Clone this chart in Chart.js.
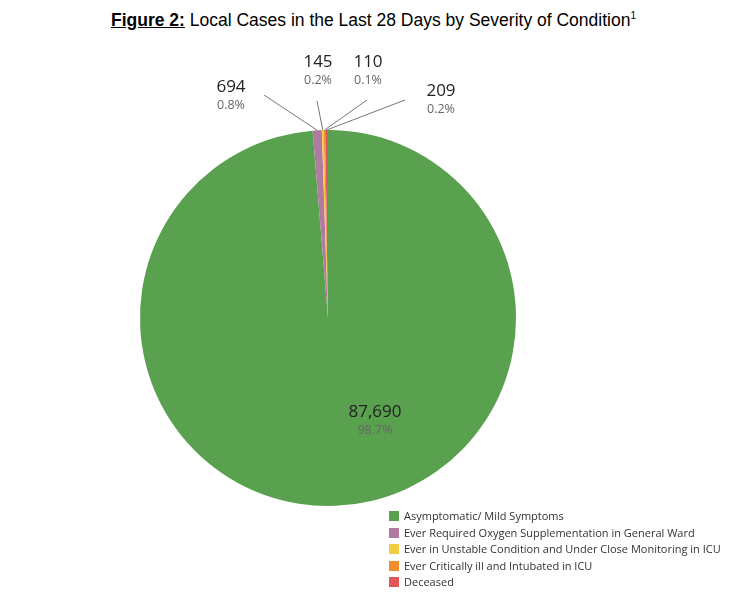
<!DOCTYPE html>
<html><head><meta charset="utf-8">
<script src="https://cdn.jsdelivr.net/npm/chart.js@4"></script>
<style>
body{margin:0;background:#fff;width:747px;height:598px;overflow:hidden;position:relative;font-family:"Liberation Sans",Arial,sans-serif}
#title{position:absolute;top:10px;left:0;width:747px;text-align:center;font-size:17.5px;color:#000}
#title b{text-decoration:underline}
#legend{position:absolute;left:389px;top:508px;font-family:"Open Sans",sans-serif;font-size:11px;color:#333}
#legend div{height:16.5px;line-height:16px;display:flex;align-items:center}
#legend span{display:inline-block;width:10px;height:10px;margin-right:5px}
canvas{position:absolute;left:0;top:0}
</style></head><body>
<div id="title"><b>Figure 2:</b> Local Cases in the Last 28 Days by Severity of Condition<sup style="font-size:10px">1</sup></div>
<canvas id="c" width="747" height="598"></canvas>
<div id="legend"></div>
<script>
const categories=["Asymptomatic/ Mild Symptoms","Ever Required Oxygen Supplementation in General Ward","Ever in Unstable Condition and Under Close Monitoring in ICU","Ever Critically ill and Intubated in ICU","Deceased"];
const values=[87690,694,145,110,209];
const percents=["98.7%","0.8%","0.2%","0.1%","0.2%"];
const colors=["#59a14f","#b07aa1","#f1ce3f","#f28e2b","#e15759"];
// label anchor offsets relative to the pie centre (text positions only)
const labelOffsets=[[47,94],[-97,-231],[-10,-256],[40,-256],[113,-227]];
const lineStarts=[null,[-64,-223],[-11,-217],[39,-218],[77,-218]];
const lg=document.getElementById('legend');
categories.forEach((c,i)=>{lg.innerHTML+=`<div><span style="background:${colors[i]}"></span>${c}</div>`});
const labelPlugin={id:'labels',afterDatasetsDraw(chart){
 const ctx=chart.ctx;const arcs=chart.getDatasetMeta(0).data;
 arcs.forEach((a,i)=>{
  const cx=a.x,cy=a.y;const mid=(a.startAngle+a.endAngle)/2;
  if(lineStarts[i]){
   ctx.save();ctx.strokeStyle='#777';ctx.lineWidth=1;ctx.beginPath();
   ctx.moveTo(cx+lineStarts[i][0],cy+lineStarts[i][1]);
   ctx.lineTo(cx+Math.cos(mid)*a.outerRadius,cy+Math.sin(mid)*a.outerRadius);ctx.stroke();ctx.restore();
  }
  const x=cx+labelOffsets[i][0],y=cy+labelOffsets[i][1];
  ctx.save();ctx.textAlign='center';ctx.textBaseline='middle';
  ctx.fillStyle='#222';ctx.font='17px "Open Sans",sans-serif';
  ctx.fillText(values[i].toLocaleString('en-US'),x,y);
  ctx.fillStyle='#666';ctx.font='12.5px "Open Sans",sans-serif';
  ctx.fillText(percents[i],x,y+18);ctx.restore();
 });
}};
new Chart(document.getElementById('c'),{type:'pie',
 data:{labels:categories,datasets:[{data:values,backgroundColor:colors,borderWidth:0}]},
 options:{responsive:false,animation:false,layout:{padding:{left:140,right:231,top:130,bottom:92}},
  plugins:{legend:{display:false},tooltip:{enabled:false}}},
 plugins:[labelPlugin]});
</script></body></html>
